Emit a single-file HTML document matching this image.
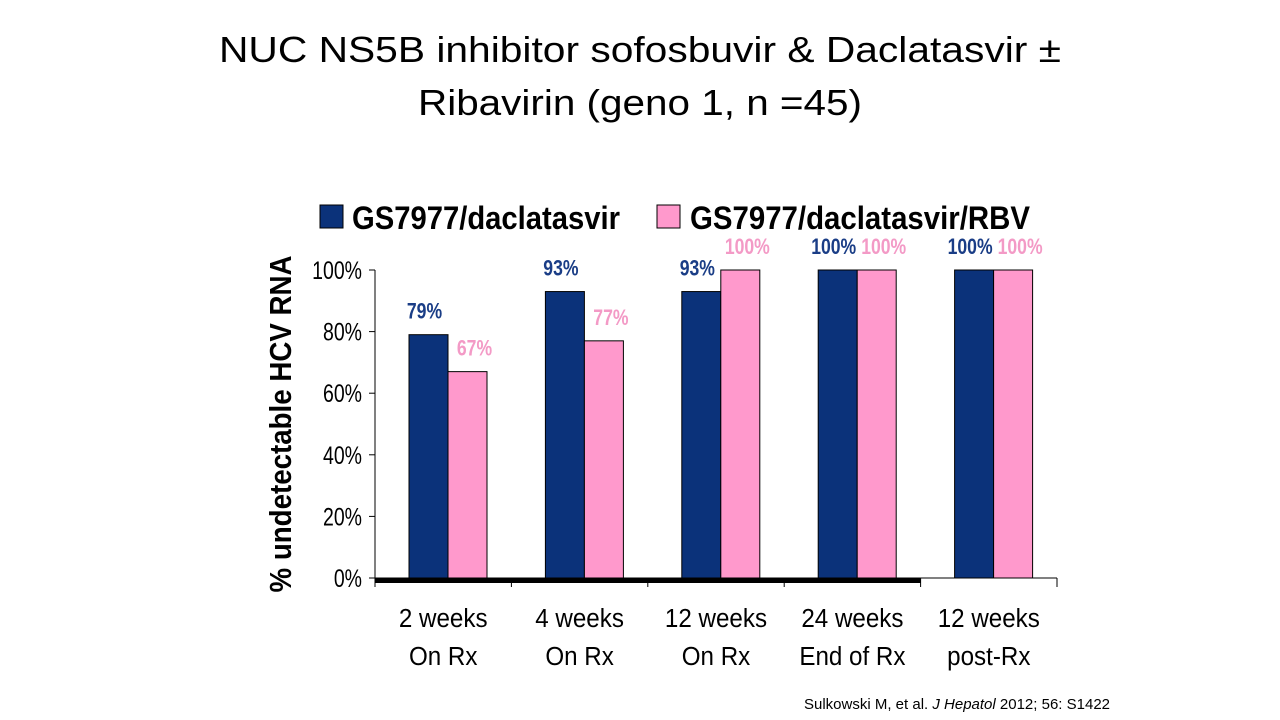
<!DOCTYPE html>
<html><head><meta charset="utf-8"><style>
html,body{margin:0;padding:0;background:#fff;width:1280px;height:720px;overflow:hidden}
svg{display:block}
</style></head><body>
<svg width="1280" height="720" viewBox="0 0 1280 720">
<g font-family="Liberation Sans, sans-serif" font-size="36" fill="#000" text-anchor="middle">
<text x="640" y="62" textLength="842" lengthAdjust="spacingAndGlyphs">NUC NS5B inhibitor sofosbuvir &amp; Daclatasvir ±</text>
<text x="640" y="115" textLength="444" lengthAdjust="spacingAndGlyphs">Ribavirin (geno 1, n =45)</text>
</g>
<g font-family="Liberation Sans, sans-serif" font-weight="bold" font-size="32">
<g>
<rect x="320" y="205" width="23" height="23" fill="#0b327a" stroke="#000" stroke-width="1"/>
<text x="352" y="229" textLength="268" lengthAdjust="spacingAndGlyphs">GS7977/daclatasvir</text>
</g>
<g>
<rect x="657" y="205" width="23" height="23" fill="#ff99cc" stroke="#000" stroke-width="1"/>
<text x="690" y="229" textLength="340" lengthAdjust="spacingAndGlyphs">GS7977/daclatasvir/RBV</text>
</g>
</g>
<text transform="translate(291,424) rotate(-90)" text-anchor="middle" font-family="Liberation Sans, sans-serif" font-weight="bold" font-size="31" textLength="337" lengthAdjust="spacingAndGlyphs">% undetectable HCV RNA</text>
<g id="plot"></g>
<text x="1110" y="709" text-anchor="end" font-family="Liberation Sans, sans-serif" font-size="15">Sulkowski M, et al. <tspan font-style="italic">J Hepatol</tspan> 2012; 56: S1422</text>
</svg>
<script>
const categories1 = ["2 weeks","4 weeks","12 weeks","24 weeks","12 weeks"];
const categories2 = ["On Rx","On Rx","On Rx","End of Rx","post-Rx"];
const seriesA = [79,93,93,100,100];
const seriesB = [67,77,100,100,100];
const yTicks = [0,20,40,60,80,100];
const NS="http://www.w3.org/2000/svg";
const plot=document.getElementById('plot');
const X0=375,X1=1057,Y0=578,Y100=270;
const cw=(X1-X0)/categories1.length;
const y=v=>Y0-(v/100)*(Y0-Y100);
const xc=i=>X0+cw*i;
function mk(tag,attrs){const e=document.createElementNS(NS,tag);for(const k in attrs)e.setAttribute(k,attrs[k]);plot.appendChild(e);return e;}
// y axis
let ax=mk('line',{x1:X0,y1:Y100,x2:X0,y2:Y0,stroke:'#000','stroke-width':1});


yTicks.forEach(t=>{
  const l=mk('line',{x1:X0-6,y1:y(t),x2:X0,y2:y(t),stroke:'#000'});
  
  
  const tx=mk('text',{transform:`translate(${X0-13},${y(t)+9}) scale(0.78,1)`,'text-anchor':'end','font-family':'Liberation Sans, sans-serif','font-size':25});
  tx.textContent=t+'%';
  
  
});
// bars
const bw=39,off=34;
categories1.forEach((c,i)=>{
  const xa=xc(i)+off, xb=xa+bw;
  const ra=mk('rect',{x:xa,y:y(seriesA[i]),width:bw,height:Y0-y(seriesA[i]),fill:'#0b327a',stroke:'#000','stroke-width':1});
  
  
  const rb=mk('rect',{x:xb,y:y(seriesB[i]),width:bw,height:Y0-y(seriesB[i]),fill:'#ff99cc',stroke:'#000','stroke-width':1});
  
  
  const la=mk('text',{transform:`translate(${xa+bw/2-4},${y(seriesA[i])-16}) scale(0.8,1)`,'text-anchor':'middle','font-family':'Liberation Sans, sans-serif','font-weight':'bold','font-size':22,fill:'#1a3d86'});
  la.textContent=seriesA[i]+'%';
  
  
  const lb=mk('text',{transform:`translate(${xb+bw/2+7},${y(seriesB[i])-16}) scale(0.8,1)`,'text-anchor':'middle','font-family':'Liberation Sans, sans-serif','font-weight':'bold','font-size':22,fill:'#f39ac6'});
  lb.textContent=seriesB[i]+'%';
  
  
  const t1=mk('text',{x:xc(i)+cw/2,y:627,'text-anchor':'middle','font-family':'Liberation Sans, sans-serif','font-size':26,transform:`translate(${(xc(i)+cw/2)*0.07},0) scale(0.93,1)`});
  t1.textContent=c;
  
  
  const t2=mk('text',{x:xc(i)+cw/2,y:665,'text-anchor':'middle','font-family':'Liberation Sans, sans-serif','font-size':26,transform:`translate(${(xc(i)+cw/2)*0.07},0) scale(0.93,1)`});
  t2.textContent=categories2[i];
  
  
});
// x axis
const xl=mk('line',{x1:X0,y1:Y0,x2:X1,y2:Y0,stroke:'#000','stroke-width':1});


const thick=mk('rect',{x:X0,y:Y0,width:cw*4,height:5,fill:'#000'});


for(let i=0;i<=categories1.length;i++){
  const tk=mk('line',{x1:xc(i),y1:Y0,x2:xc(i),y2:Y0+9,stroke:'#000'});
  
  
}
</script>
</body></html>
